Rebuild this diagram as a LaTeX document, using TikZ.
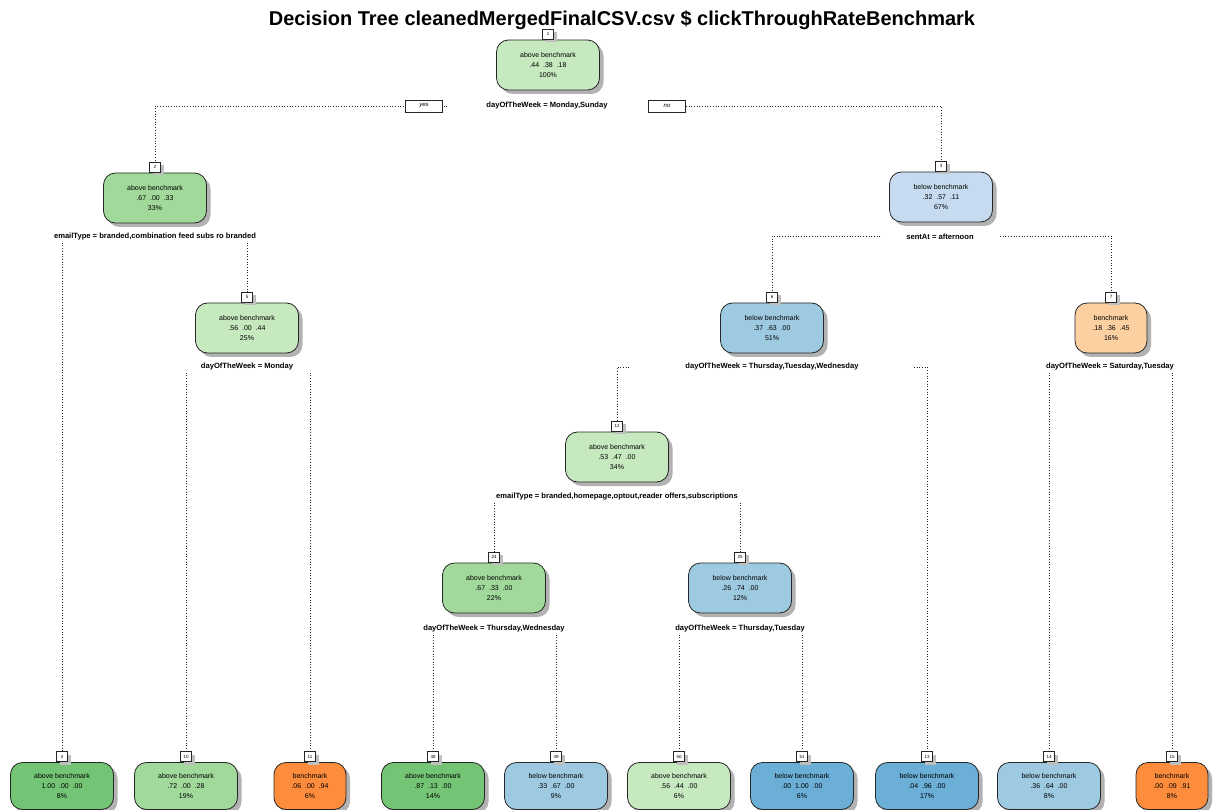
\documentclass[tikz,border=0pt]{standalone}
\usepackage{fontspec}
\setmainfont{Liberation Sans}
\usetikzlibrary{shadows}

% fill colours of the tree nodes
\definecolor{gA}{HTML}{C7E9C0}
\definecolor{gB}{HTML}{A1D99B}
\definecolor{gC}{HTML}{74C476}
\definecolor{bA}{HTML}{C6DBEF}
\definecolor{bB}{HTML}{9ECAE1}
\definecolor{bC}{HTML}{6BAED6}
\definecolor{oA}{HTML}{FDD0A2}
\definecolor{oC}{HTML}{FD8D3C}

\pgfdeclarelayer{bg}
\pgfsetlayers{bg,main}

\begin{document}
\begin{tikzpicture}[x=1pt,y=-1pt,
  tn/.style={draw=black!85, line width=0.8pt, rounded corners=12pt,
    minimum width=103pt, minimum height=50pt, align=center, inner sep=1pt,
    font=\fontsize{7}{10}\selectfont,
    drop shadow={shadow xshift=4pt, shadow yshift=-4pt, fill=black!30, opacity=1}},
  leaf/.style={tn, minimum height=47pt},
  narrow/.style={minimum width=72pt},
  numbox/.style={draw=black!85, fill=white, line width=0.7pt,
    minimum width=11pt, minimum height=10pt, inner sep=0pt, anchor=south,
    font=\fontsize{4.5}{5}\selectfont,
    drop shadow={shadow xshift=3pt, shadow yshift=-3pt, fill=black!25, opacity=1}},
  split/.style={font=\fontsize{7.6}{9}\selectfont\bfseries, inner sep=2pt},
  yn/.style={draw=black!85, fill=white, line width=0.7pt, minimum width=37pt,
    minimum height=12pt, inner sep=0pt, font=\fontsize{6}{7}\selectfont\itshape},
  conn/.style={dotted, line width=0.7pt, black!85}]

\useasboundingbox (0,0) rectangle (1219,810);

% title
\node[font=\fontsize{20}{24}\selectfont\bfseries] (title) at (622,20)
  {Decision Tree cleanedMergedFinalCSV.csv \$ clickThroughRateBenchmark};

% inner nodes
\node[tn, fill=gA] (n1)  at (548,65)  {above benchmark\\.44\ \ .38\ \ .18\\100\%};
\node[tn, fill=gB] (n2)  at (155,198) {above benchmark\\.67\ \ .00\ \ .33\\33\%};
\node[tn, fill=bA] (n3)  at (941,197) {below benchmark\\.32\ \ .57\ \ .11\\67\%};
\node[tn, fill=gA] (n5)  at (247,328) {above benchmark\\.56\ \ .00\ \ .44\\25\%};
\node[tn, fill=bB] (n6)  at (772,328) {below benchmark\\.37\ \ .63\ \ .00\\51\%};
\node[tn, narrow, fill=oA] (n7) at (1111,328) {benchmark\\.18\ \ .36\ \ .45\\16\%};
\node[tn, fill=gA] (n12) at (617,457) {above benchmark\\.53\ \ .47\ \ .00\\34\%};
\node[tn, fill=gB] (n24) at (494,588) {above benchmark\\.67\ \ .33\ \ .00\\22\%};
\node[tn, fill=bB] (n25) at (740,588) {below benchmark\\.26\ \ .74\ \ .00\\12\%};

% leaves
\node[leaf, fill=gC] (n4)  at (62,786)   {above benchmark\\1.00\ \ .00\ \ .00\\8\%};
\node[leaf, fill=gB] (n10) at (186,786)  {above benchmark\\.72\ \ .00\ \ .28\\19\%};
\node[leaf, narrow, fill=oC] (n11) at (310,786) {benchmark\\.06\ \ .00\ \ .94\\6\%};
\node[leaf, fill=gC] (n48) at (433,786)  {above benchmark\\.87\ \ .13\ \ .00\\14\%};
\node[leaf, fill=bB] (n49) at (556,786)  {below benchmark\\.33\ \ .67\ \ .00\\9\%};
\node[leaf, fill=gA] (n50) at (679,786)  {above benchmark\\.56\ \ .44\ \ .00\\6\%};
\node[leaf, fill=bC] (n51) at (802,786)  {below benchmark\\.00\ \ 1.00\ \ .00\\6\%};
\node[leaf, fill=bC] (n13) at (927,786)  {below benchmark\\.04\ \ .96\ \ .00\\17\%};
\node[leaf, fill=bB] (n14) at (1049,786) {below benchmark\\.36\ \ .64\ \ .00\\8\%};
\node[leaf, narrow, fill=oC] (n15) at (1172,786) {benchmark\\.00\ \ .09\ \ .91\\8\%};

% node numbers
\foreach \k in {1,2,3,4,5,6,7,10,11,12,13,14,15,24,25,48,49,50,51}
  \node[numbox] (b\k) at (n\k.north) {\k};

% split labels
\node[split] (s1)  at (547,106) {dayOfTheWeek = Monday,Sunday};
\node[split] (s2)  at (155,237) {emailType = branded,combination feed subs ro branded};
\node[split] (s3)  at (940,237) {sentAt = afternoon};
\node[split] (s5)  at (247,367) {dayOfTheWeek = Monday};
\node[split] (s6)  at (772,367) {dayOfTheWeek = Thursday,Tuesday,Wednesday};
\node[split] (s7)  at (1110,367) {dayOfTheWeek = Saturday,Tuesday};
\node[split] (s12) at (617,497) {emailType = branded,homepage,optout,reader offers,subscriptions};
\node[split] (s24) at (494,629) {dayOfTheWeek = Thursday,Wednesday};
\node[split] (s25) at (740,629) {dayOfTheWeek = Thursday,Tuesday};

% yes / no tags on the root split
\node[yn] (yes) at (424,106) {yes};
\node[yn] (no)  at (667,106) {no};

% free ends of the horizontal connector runs
\coordinate (c1l) at (447,106);
\coordinate (c1r) at (648,106);
\coordinate (c3l) at (880,236);
\coordinate (c3r) at (1000,236);
\coordinate (c6l) at (629,367);
\coordinate (c6r) at (914,367);

\begin{pgfonlayer}{bg}
  % page background, then the dotted connectors underneath the nodes
  \fill[white] (0,0) rectangle (1219,810);
  \draw[conn] (c1l) -| (b2.north);
  \draw[conn] (c1r) -| (b3.north);
  \draw[conn] (s2.south -| b4.north) -- (b4.north);
  \draw[conn] (s2.south -| b5.north) -- (b5.north);
  \draw[conn] (c3l) -| (b6.north);
  \draw[conn] (c3r) -| (b7.north);
  \draw[conn] (s5.south -| b10.north) -- (b10.north);
  \draw[conn] (s5.south -| b11.north) -- (b11.north);
  \draw[conn] (c6l) -| (b12.north);
  \draw[conn] (c6r) -| (b13.north);
  \draw[conn] (s7.south -| b14.north) -- (b14.north);
  \draw[conn] (s7.south -| b15.north) -- (b15.north);
  \draw[conn] (s12.south -| b24.north) -- (b24.north);
  \draw[conn] (s12.south -| b25.north) -- (b25.north);
  \draw[conn] (s24.south -| b48.north) -- (b48.north);
  \draw[conn] (s24.south -| b49.north) -- (b49.north);
  \draw[conn] (s25.south -| b50.north) -- (b50.north);
  \draw[conn] (s25.south -| b51.north) -- (b51.north);
\end{pgfonlayer}
\end{tikzpicture}
\end{document}
